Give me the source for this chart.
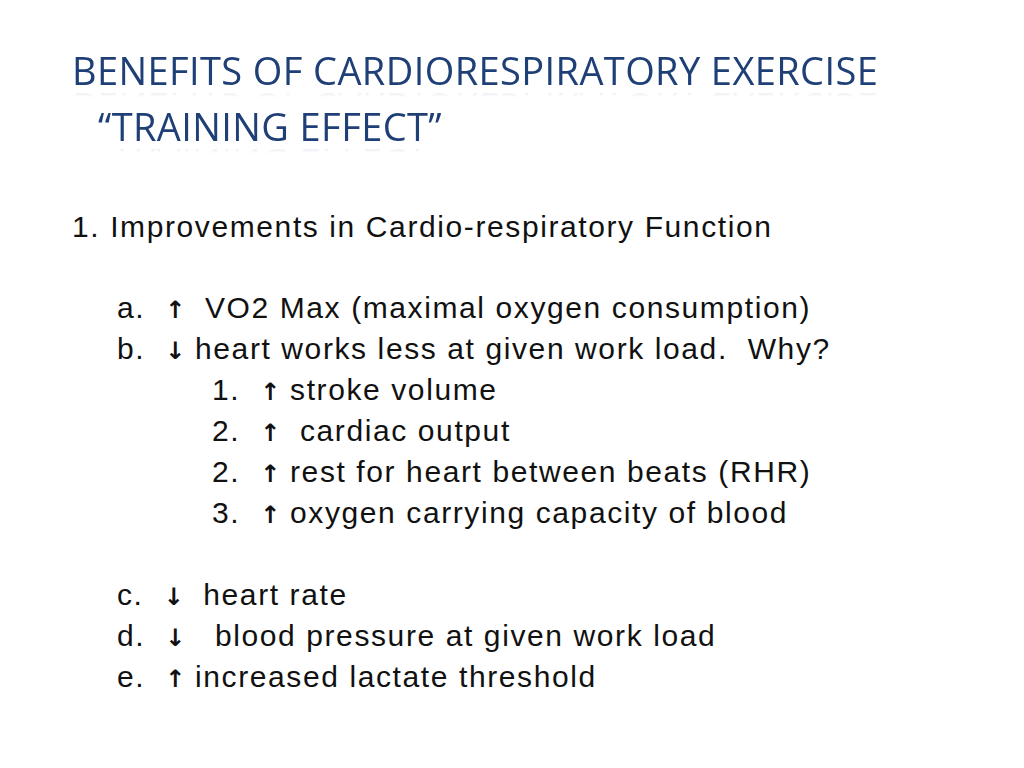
<!DOCTYPE html>
<html>
<head>
<meta charset="utf-8">
<script src="https://cdn.jsdelivr.net/npm/chart.js@4"></script>
<style>
  body { margin: 0; width: 1024px; height: 768px; background: #fff; position: relative; overflow: hidden; }
  .title { position: absolute; font-family: "Open Sans", "Lato", sans-serif; color: #1f3f77; font-size: 38px; letter-spacing: 0.4px;
           -webkit-box-reflect: below -14px linear-gradient(transparent 70%, rgba(255,255,255,0.25)); white-space: nowrap; }
  .line { position: absolute; font-family: "Liberation Sans", Arial, sans-serif; font-size: 30px; letter-spacing: 1.6px; color: #111; white-space: pre; line-height: 1; }
  .ar { display: inline-block; width: 20px; text-align: center; font-family: "DejaVu Sans", sans-serif; font-weight: bold; font-size: 24px; }
</style>
</head>
<body>
<div class="title" style="left:72px; top:44px;">BENEFITS OF CARDIORESPIRATORY EXERCISE</div>
<div class="title" style="left:98px; top:100px;">“TRAINING EFFECT”</div>
<div id="text"></div>
<script>
  // lines of the slide: [x, y, text]
  const lineX = [72, 117, 117, 212, 212, 212, 212, 117, 117, 117];
  const lineY = [212, 293, 334, 375, 416, 457, 498, 580, 621, 662];
  const lineText = [
    '1. Improvements in Cardio-respiratory Function',
    'a.  ↑  VO2 Max (maximal oxygen consumption)',
    'b.  ↓ heart works less at given work load.  Why?',
    '1.  ↑ stroke volume',
    '2.  ↑  cardiac output',
    '2.  ↑ rest for heart between beats (RHR)',
    '3.  ↑ oxygen carrying capacity of blood',
    'c.  ↓  heart rate',
    'd.  ↓   blood pressure at given work load',
    'e.  ↑ increased lactate threshold'
  ];
  const box = document.getElementById('text');
  lineText.forEach((t, i) => {
    const d = document.createElement('div');
    d.className = 'line';
    d.style.left = lineX[i] + 'px';
    d.style.top = lineY[i] + 'px';
    d.innerHTML = t.replace(/([↑↓])/g, '<span class="ar">$1</span>');
    box.appendChild(d);
  });
</script>
</body>
</html>
